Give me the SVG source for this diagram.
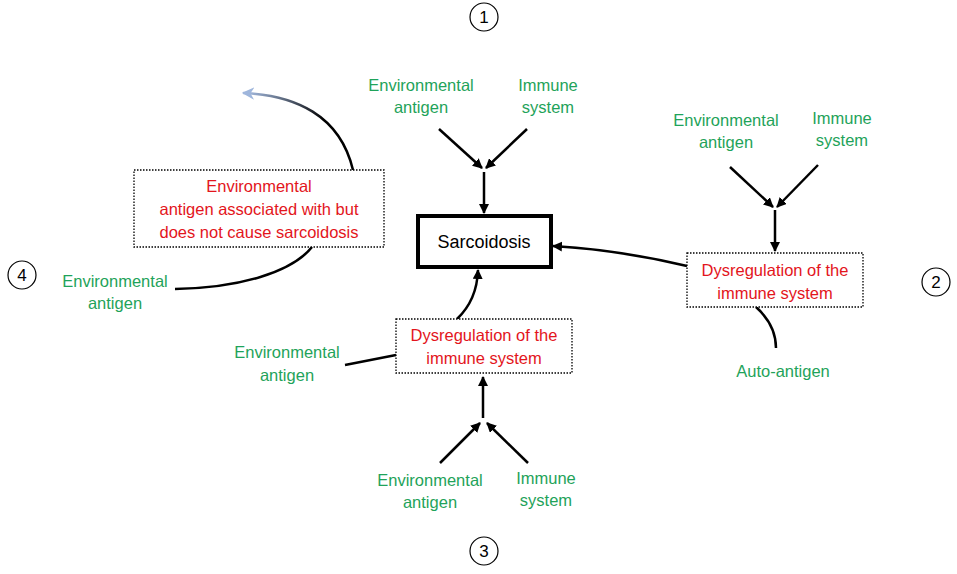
<svg xmlns="http://www.w3.org/2000/svg" width="957" height="574" viewBox="0 0 957 574">
<defs>
<style>
.g{fill:#1fa35a;font-family:"Liberation Sans",Arial,sans-serif;font-size:16.5px;text-anchor:middle}
.r{fill:#e3151c;font-family:"Liberation Sans",Arial,sans-serif;font-size:16.5px;text-anchor:middle}
.k{fill:#000;font-family:"Liberation Sans",Arial,sans-serif;text-anchor:middle}
.box{fill:#fff;stroke:#000;stroke-width:1.3;stroke-dasharray:1.5 1.5}
.ln{fill:none;stroke:#000;stroke-width:2.5}
.num{fill:#fff;stroke:#000;stroke-width:1.2}
</style>
<marker id="ah" viewBox="0 0 10 10" refX="9" refY="5" markerWidth="4" markerHeight="4" orient="auto" markerUnits="strokeWidth">
<path d="M0,0 L10,5 L0,10 z" fill="#000"/>
</marker>
<marker id="ahb" viewBox="0 0 10 10" refX="9" refY="5" markerWidth="5" markerHeight="5" orient="auto" markerUnits="strokeWidth">
<path d="M0,0 L10,5 L0,10 L3,5 z" fill="#9fb6dc"/>
</marker>
<linearGradient id="gr" gradientUnits="userSpaceOnUse" x1="245" y1="93" x2="353" y2="170">
<stop offset="0" stop-color="#a6bde3"/>
<stop offset="0.6" stop-color="#000"/>
<stop offset="1" stop-color="#000"/>
</linearGradient>
</defs>
<rect width="957" height="574" fill="#fff"/>

<g id="connectors">
<line class="ln" x1="439" y1="129" x2="482" y2="168" marker-end="url(#ah)"/>
<line class="ln" x1="527" y1="129" x2="486" y2="168" marker-end="url(#ah)"/>
<line class="ln" x1="484" y1="172" x2="484" y2="213" marker-end="url(#ah)"/>

<line class="ln" x1="730" y1="167" x2="773" y2="207" marker-end="url(#ah)"/>
<line class="ln" x1="818" y1="165" x2="777" y2="207" marker-end="url(#ah)"/>
<line class="ln" x1="775" y1="210" x2="775" y2="251" marker-end="url(#ah)"/>
<path class="ln" d="M687,266 Q620,250 553,246" marker-end="url(#ah)"/>
<path class="ln" d="M756,307 Q776,325 776,348"/>

<line class="ln" x1="483" y1="418" x2="483" y2="377" marker-end="url(#ah)"/>
<line class="ln" x1="440" y1="463" x2="480" y2="423" marker-end="url(#ah)"/>
<line class="ln" x1="528" y1="463" x2="487" y2="423" marker-end="url(#ah)"/>
<path class="ln" d="M457,319 Q477,300 478,270" marker-end="url(#ah)"/>
<path class="ln" d="M345,365 Q370,360 396,355"/>

<path d="M353,170 C340,115 295,95 243,93" fill="none" stroke="url(#gr)" stroke-width="2.5" marker-end="url(#ahb)"/>
<path class="ln" d="M175,289 C240,288 292,272 312,247"/>
</g>

<g id="sarcoidosis">
<rect x="418" y="216" width="133" height="51" fill="#fff" stroke="#000" stroke-width="4"/>
<text class="k" x="484" y="248" font-size="18">Sarcoidosis</text>
</g>

<g id="n1">
<circle class="num" cx="484" cy="17" r="14"/>
<text class="k" x="484" y="23" font-size="17">1</text>
<text class="g" x="421" y="91">Environmental</text>
<text class="g" x="421" y="113">antigen</text>
<text class="g" x="548" y="91">Immune</text>
<text class="g" x="548" y="113">system</text>
</g>

<g id="n2">
<circle class="num" cx="936" cy="282" r="14"/>
<text class="k" x="936" y="288" font-size="17">2</text>
<text class="g" x="726" y="126">Environmental</text>
<text class="g" x="726" y="148">antigen</text>
<text class="g" x="842" y="124">Immune</text>
<text class="g" x="842" y="146">system</text>
<rect class="box" x="687" y="253" width="176" height="54"/>
<text class="r" x="775" y="276">Dysregulation of the</text>
<text class="r" x="775" y="299">immune system</text>
<text class="g" x="783" y="377">Auto-antigen</text>
</g>

<g id="n3">
<circle class="num" cx="484" cy="551" r="14"/>
<text class="k" x="484" y="557" font-size="17">3</text>
<rect class="box" x="396" y="319" width="176" height="54"/>
<text class="r" x="484" y="341">Dysregulation of the</text>
<text class="r" x="484" y="364">immune system</text>
<text class="g" x="287" y="358">Environmental</text>
<text class="g" x="287" y="381">antigen</text>
<text class="g" x="430" y="486">Environmental</text>
<text class="g" x="430" y="508">antigen</text>
<text class="g" x="546" y="484">Immune</text>
<text class="g" x="546" y="506">system</text>
</g>

<g id="n4">
<circle class="num" cx="22" cy="275" r="14"/>
<text class="k" x="22" y="281" font-size="17">4</text>
<rect class="box" x="134" y="170" width="250" height="77"/>
<text class="r" x="259" y="192">Environmental</text>
<text class="r" x="259" y="215">antigen associated with but</text>
<text class="r" x="259" y="238">does not cause sarcoidosis</text>
<text class="g" x="115" y="287">Environmental</text>
<text class="g" x="115" y="309">antigen</text>
</g>
</svg>
